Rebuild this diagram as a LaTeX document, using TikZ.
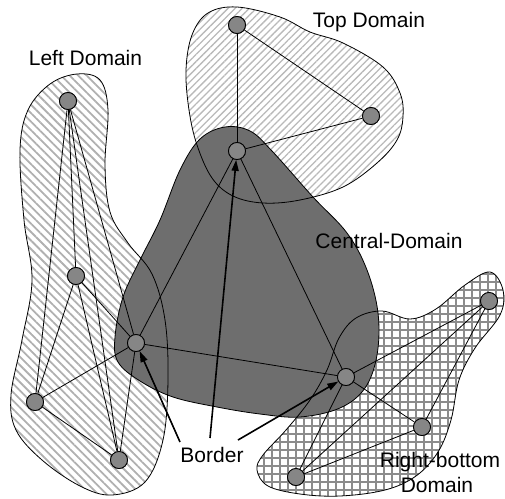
\documentclass[tikz,border=0pt]{standalone}
\usepackage{fontspec}
\setmainfont{Liberation Sans}
\usetikzlibrary{arrows.meta,patterns.meta}

\begin{document}
\begin{tikzpicture}[x=1pt,y=-1pt,
  vertex/.style={circle,draw=black,fill=gray!95,line width=0.8pt,minimum size=17pt,inner sep=0pt},
  link/.style={line width=0.8pt},
  pointer/.style={line width=1.6pt,-{Triangle[length=11pt,width=7pt]}},
  outline/.style={line width=0.8pt},
  lbl/.style={font=\fontsize{21}{24}\selectfont,anchor=base,inner sep=0pt},
  leftfill/.style={pattern={Lines[angle=-45,distance=6pt,line width=1.8pt]},pattern color=gray!62},
  topfill/.style={pattern={Lines[angle=45,distance=5pt,line width=1.3pt]},pattern color=gray!55},
  gridfill/.style={pattern={Hatch[angle=0,distance=8pt,line width=1.5pt]},pattern color=gray!90},
  centralfill/.style={fill=black!57}]

\path[use as bounding box] (0,0) rectangle (505,498);

% domain shapes
\path[save path=\leftpath] plot[smooth cycle,tension=0.6] coordinates {
  (77,74) (100,80) (108,110) (105,165) (110,212) (128,243) (152,274)
  (165,320) (168,380) (163,440) (145,482) (112,495) (80,486) (42,460)
  (16,430) (11,395) (22,340) (32,280) (24,220) (20,150) (28,110) (50,84)};
\path[save path=\toppath] plot[smooth cycle,tension=0.6] coordinates {
  (237,7) (280,17) (310,32) (343,43) (383,67) (400,93) (403,117)
  (397,140) (377,163) (343,187) (300,200) (263,203) (233,196) (212,178)
  (197,145) (189,110) (186,70) (192,35) (208,13)};
\path[save path=\centralpath] plot[smooth cycle,tension=0.6] coordinates {
  (225,127) (250,131) (272,151) (313,197) (347,233) (367,270) (378,313)
  (377,355) (365,388) (340,408) (300,417) (260,414) (217,407) (173,397)
  (140,381) (118,362) (115,337) (123,297) (140,260) (160,220) (180,170) (200,139)};
\path[save path=\rightpath] plot[smooth cycle,tension=0.6] coordinates {
  (490,272) (503,290) (500,315) (475,348) (459,380) (451,420) (438,452)
  (416,476) (385,490) (340,496) (300,494) (268,486) (257,470) (263,455)
  (286,430) (310,400) (327,370) (339,338) (356,318) (382,311) (410,319)
  (436,309) (465,285)};

% fills, then outlines on top
\path[leftfill,use path=\leftpath];
\path[topfill,use path=\toppath];
\path[gridfill,use path=\rightpath];
\path[centralfill,use path=\centralpath];
\draw[outline,use path=\leftpath];
\draw[outline,use path=\toppath];
\draw[outline,use path=\rightpath];
\draw[outline,use path=\centralpath];

% vertices
\node[vertex] (L1) at (68,101) {};
\node[vertex] (L2) at (76,276) {};
\node[vertex] (L3) at (35,402) {};
\node[vertex] (L4) at (119,460) {};
\node[vertex] (T1) at (237,25) {};
\node[vertex] (T2) at (371,116) {};
\node[vertex] (R1) at (489,301) {};
\node[vertex] (R2) at (422,427) {};
\node[vertex] (R3) at (296,477) {};
\node[vertex] (B1) at (136,343) {};
\node[vertex] (B2) at (237,151) {};
\node[vertex] (B3) at (346,377) {};

% links
\foreach \a/\b in {L1/L2,L1/L3,L1/L4,L1/B1,L2/L3,L2/L4,L2/B1,L3/L4,L3/B1,L4/B1,
                   T1/T2,T1/B2,T2/B2,
                   B1/B2,B2/B3,B1/B3,
                   B3/R1,B3/R2,B3/R3,R1/R2,R1/R3,R2/R3}
  \draw[link] (\a) -- (\b);

% redraw vertices over the links
\foreach \v in {L1,L2,L3,L4,T1,T2,R1,R2,R3,B1,B2,B3}
  \path[draw=black,fill=gray!95,line width=0.8pt] (\v) circle[radius=8.5pt];

% labels
\node[lbl] (tl) at (85.5,65) {Left Domain};
\node[lbl] (tt) at (369,27) {Top Domain};
\node[lbl] (tc) at (389,248) {Central-Domain};
\node[lbl] (tb) at (212,462) {Border};
\node[lbl] (tr1) at (440,467) {Right-bottom};
\node[lbl] (tr2) at (437,492) {Domain};

% border pointers
\coordinate (p1) at (180,442);
\coordinate (p2) at (210,438);
\coordinate (p3) at (238,440);
\draw[pointer] (p1) -- (B1);
\draw[pointer] (p2) -- (B2);
\draw[pointer] (p3) -- (B3);
\end{tikzpicture}
\end{document}
